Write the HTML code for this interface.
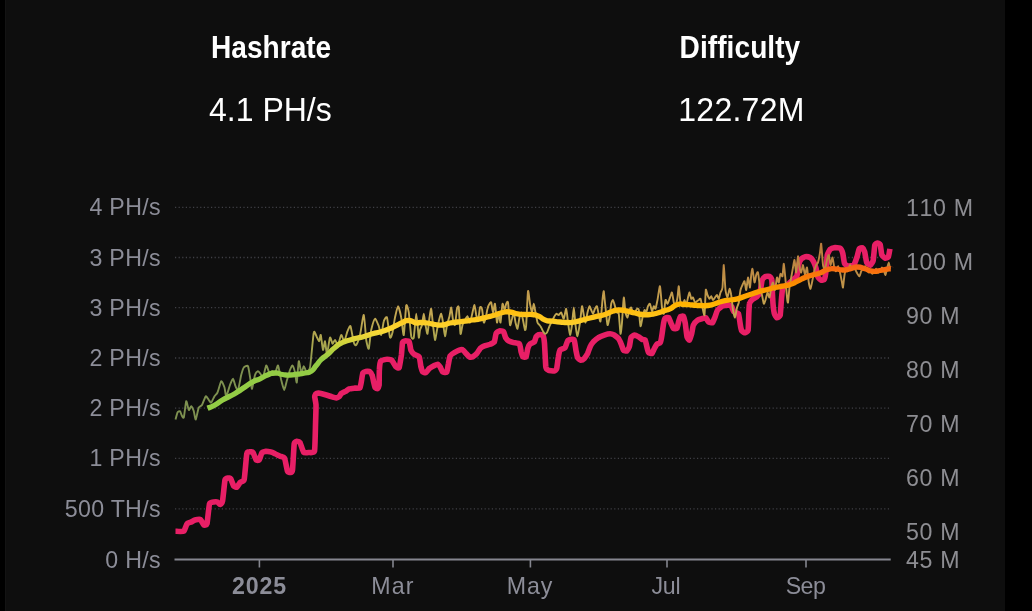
<!DOCTYPE html>
<html lang="en">
<head>
<meta charset="utf-8">
<title>Hashrate &amp; Difficulty</title>
<style>
html,body{margin:0;padding:0;background:#000;}
body{width:1032px;height:611px;overflow:hidden;position:relative;font-family:"Liberation Sans",sans-serif;}
#panel{position:absolute;left:6px;top:0;width:999px;height:611px;background:#0e0e0e;}
#edgeL{position:absolute;left:5px;top:0;width:1px;height:611px;background:#131313;}
.t{position:absolute;white-space:nowrap;color:#fff;line-height:1;transform-origin:0 0;}
#h1{left:211px;top:32.8px;font-size:28.1px;font-weight:bold;transform:scaleY(1.10);}
#h2{left:679.6px;top:32.8px;font-size:28.1px;font-weight:bold;letter-spacing:0.05px;transform:scaleY(1.10);}
#v1{left:209px;top:93.1px;font-size:32px;transform:scaleY(1.055);}
#v2{left:678.3px;top:93.1px;font-size:32px;letter-spacing:0.25px;transform:scaleY(1.055);}
.yl,.yr,.xl{position:absolute;height:30px;line-height:30px;font-size:23.2px;color:#8c8d98;white-space:nowrap;}
.yl{right:871.2px;text-align:right;letter-spacing:0.3px;}
.yr{left:906px;color:#8d8d92;letter-spacing:0.65px;font-kerning:none;}
.xl{width:100px;text-align:center;top:570.5px;}
.xl.b{font-weight:bold;}
svg{position:absolute;left:0;top:0;}
</style>
</head>
<body>
<div id="panel"></div>
<div id="edgeL"></div>
<div class="t" id="h1">Hashrate</div>
<div class="t" id="v1">4.1 PH/s</div>
<div class="t" id="h2">Difficulty</div>
<div class="t" id="v2">122.72M</div>
<div class="yl" style="top:192.3px">4 PH/s</div>
<div class="yl" style="top:242.5px">3 PH/s</div>
<div class="yl" style="top:292.7px">3 PH/s</div>
<div class="yl" style="top:343.0px">2 PH/s</div>
<div class="yl" style="top:393.2px">2 PH/s</div>
<div class="yl" style="top:443.4px">1 PH/s</div>
<div class="yl" style="top:493.9px">500 TH/s</div>
<div class="yl" style="top:544.5px">0 H/s</div>
<div class="yr" style="top:192.5px">110 M</div>
<div class="yr" style="top:246.8px">100 M</div>
<div class="yr" style="top:300.8px">90 M</div>
<div class="yr" style="top:354.8px">80 M</div>
<div class="yr" style="top:408.8px">70 M</div>
<div class="yr" style="top:462.9px">60 M</div>
<div class="yr" style="top:516.9px">50 M</div>
<div class="yr" style="top:545.0px">45 M</div>
<div class="xl b" style="left:209.6px;letter-spacing:0.85px">2025</div>
<div class="xl" style="left:342.9px;letter-spacing:1.15px">Mar</div>
<div class="xl" style="left:480.0px;letter-spacing:0.85px">May</div>
<div class="xl" style="left:615.9px;letter-spacing:-0.35px">Jul</div>
<div class="xl" style="left:755.5px;letter-spacing:-0.55px">Sep</div>
<svg width="1032" height="611" viewBox="0 0 1032 611">
<defs>
<linearGradient id="g" gradientUnits="userSpaceOnUse" x1="0" y1="258" x2="0" y2="360">
<stop offset="0" stop-color="#F4511E"/>
<stop offset="0.25" stop-color="#FB8C00"/>
<stop offset="0.45" stop-color="#FFB300"/>
<stop offset="0.71" stop-color="#FDD835"/>
<stop offset="1" stop-color="#93CC45"/>
</linearGradient>
<linearGradient id="g2" gradientUnits="userSpaceOnUse" x1="0" y1="243" x2="0" y2="370">
<stop offset="0" stop-color="#b87a3a"/>
<stop offset="0.3" stop-color="#c09248"/>
<stop offset="0.55" stop-color="#c4a752"/>
<stop offset="0.8" stop-color="#a9a64e"/>
<stop offset="1" stop-color="#7e9150"/>
</linearGradient>
</defs>
<g stroke="#404046" stroke-width="1.3" stroke-dasharray="1.2 2.4" fill="none">
<line x1="175" y1="207.3" x2="890" y2="207.3"/>
<line x1="175" y1="257.5" x2="890" y2="257.5"/>
<line x1="175" y1="307.7" x2="890" y2="307.7"/>
<line x1="175" y1="358.0" x2="890" y2="358.0"/>
<line x1="175" y1="408.2" x2="890" y2="408.2"/>
<line x1="175" y1="458.4" x2="890" y2="458.4"/>
<line x1="175" y1="508.9" x2="890" y2="508.9"/>
</g>
<g stroke="#85868f" stroke-width="2" fill="none">
<line x1="174.5" y1="559.5" x2="890.7" y2="559.5"/>
</g>
<g stroke="#85868f" stroke-width="1.6" fill="none">
<line x1="259.4" y1="559.5" x2="259.4" y2="567.5"/>
<line x1="393" y1="559.5" x2="393" y2="567.5"/>
<line x1="530.4" y1="559.5" x2="530.4" y2="567.5"/>
<line x1="667" y1="559.5" x2="667" y2="567.5"/>
<line x1="806" y1="559.5" x2="806" y2="567.5"/>
</g>
<path d="M175.5,531.2C176.1,531.2 182.9,531.8 183.8,531.2C184.6,530.7 186.4,524.4 187.0,523.8C187.6,523.1 190.7,522.3 191.2,522.0C191.8,521.7 194.3,520.2 195.0,520.0C195.7,519.8 199.9,519.1 200.5,519.5C201.1,519.9 203.3,524.7 203.8,525.0C204.2,525.3 206.6,525.3 207.0,523.8C207.4,522.2 209.0,505.3 209.5,503.8C210.0,502.2 213.2,502.1 213.8,502.0C214.3,501.9 217.0,501.8 217.5,502.0C218.0,502.2 219.6,504.6 220.0,504.5C220.4,504.4 222.1,503.0 222.5,501.2C222.9,499.5 224.6,481.7 225.0,480.0C225.4,478.3 227.6,478.1 228.0,478.0C228.4,477.9 230.3,478.1 230.8,478.8C231.2,479.4 233.3,485.6 233.8,486.2C234.2,486.9 236.5,487.3 237.0,487.0C237.5,486.7 239.5,483.1 240.0,482.5C240.5,481.9 243.8,481.6 244.2,479.5C244.7,477.4 246.4,455.8 246.8,453.8C247.1,451.7 249.0,451.8 249.5,451.8C250.0,451.7 252.5,451.9 253.0,452.5C253.5,453.1 255.8,459.4 256.2,460.0C256.7,460.6 258.8,460.6 259.2,460.0C259.7,459.4 261.5,453.1 262.0,452.5C262.5,451.9 265.7,451.3 266.2,451.2C266.8,451.2 269.4,451.6 270.0,451.8C270.6,451.9 274.3,453.4 275.0,453.8C275.7,454.1 279.3,455.9 280.0,456.2C280.7,456.6 283.9,456.9 284.5,458.0C285.1,459.1 287.1,470.2 287.5,471.2C287.9,472.3 290.1,472.6 290.5,472.5C290.9,472.4 292.2,472.1 292.5,470.0C292.8,467.9 293.9,445.9 294.2,443.8C294.6,441.6 296.6,441.3 297.0,441.2C297.4,441.2 299.5,441.7 300.0,442.5C300.5,443.3 303.1,451.8 303.8,452.5C304.4,453.2 308.0,452.6 308.8,452.5C309.5,452.4 314.0,453.3 314.5,451.2C315.0,449.2 315.4,428.4 315.5,425.0C315.6,421.6 316.1,407.1 316.0,405.0C315.9,402.9 314.8,397.8 314.7,397.0C314.7,396.2 315.5,394.3 315.7,394.0C316.0,393.7 317.5,393.0 318.2,393.0C318.8,393.1 323.5,394.2 324.6,394.5C325.6,394.8 331.6,396.7 332.4,397.0C333.3,397.2 335.8,398.0 336.3,398.0C336.9,397.9 338.9,396.8 339.3,396.5C339.7,396.2 340.8,393.9 341.3,393.5C341.8,393.1 345.6,391.4 346.2,391.1C346.7,390.7 348.5,389.1 349.1,388.9C349.8,388.7 354.2,388.2 355.0,388.1C355.8,388.1 359.5,388.4 359.9,387.9C360.4,387.4 361.2,382.4 361.4,381.3C361.6,380.2 362.5,373.6 362.9,372.9C363.2,372.2 365.3,371.5 365.8,371.4C366.3,371.3 369.3,371.3 369.7,371.6C370.2,371.9 371.9,374.6 372.2,375.4C372.5,376.1 373.5,381.3 373.7,382.2C373.9,383.1 374.9,387.2 375.1,387.6C375.4,388.1 377.3,388.8 377.6,388.6C377.9,388.4 378.9,386.6 379.1,385.2C379.2,383.8 379.2,371.2 379.4,369.5C379.5,367.7 380.3,361.7 380.8,361.0C381.4,360.2 385.9,359.3 386.7,359.3C387.5,359.2 391.0,359.6 391.7,360.1C392.4,360.7 395.3,366.2 395.9,366.8C396.4,367.4 398.8,368.5 399.2,367.6C399.6,366.8 401.1,356.9 401.4,355.1C401.6,353.3 402.3,343.6 402.5,342.6C402.8,341.5 404.6,341.0 405.1,340.9C405.5,340.9 408.8,341.1 409.2,341.8C409.7,342.4 410.5,349.2 410.9,350.1C411.3,351.0 413.6,353.8 414.2,354.3C414.8,354.8 418.8,355.9 419.2,356.8C419.7,357.7 420.7,365.7 420.9,366.8C421.2,367.9 422.2,371.4 422.6,371.8C423.0,372.2 425.4,372.9 425.9,372.6C426.4,372.4 428.7,369.0 429.3,368.5C429.8,368.0 432.8,366.3 433.4,366.0C434.1,365.7 437.1,364.2 437.6,364.3C438.1,364.4 439.8,366.2 440.1,366.8C440.5,367.4 442.1,371.4 442.6,371.8C443.1,372.2 446.4,372.8 446.8,372.1C447.2,371.5 448.2,364.6 448.5,363.5C448.7,362.3 449.7,356.7 450.1,355.9C450.6,355.1 453.6,353.0 454.3,352.6C455.0,352.2 458.7,350.3 459.3,350.1C459.9,349.9 462.2,349.5 462.7,349.8C463.2,350.0 465.5,352.9 466.0,353.4C466.5,354.0 468.9,356.5 469.3,356.8C469.8,357.0 472.1,357.0 472.7,356.8C473.2,356.5 476.3,354.1 476.9,353.4C477.4,352.8 479.6,349.0 480.2,348.4C480.8,347.9 483.6,346.2 484.4,345.9C485.1,345.6 489.5,344.6 490.2,344.3C491.0,343.9 494.0,342.5 494.4,341.8C494.8,341.0 495.7,334.2 496.1,333.4C496.4,332.6 498.9,331.0 499.4,330.9C500.0,330.8 503.1,331.2 503.6,331.7C504.0,332.2 505.2,336.9 505.6,337.6C506.0,338.2 508.0,340.5 508.6,340.9C509.2,341.3 512.8,342.4 513.6,342.6C514.4,342.8 518.9,343.1 519.4,343.8C520.0,344.4 520.9,350.8 521.1,351.8C521.4,352.7 522.4,356.4 522.8,356.8C523.2,357.1 525.8,357.4 526.1,356.8C526.5,356.2 527.5,349.4 527.8,348.4C528.1,347.5 529.8,344.2 530.3,343.8C530.8,343.3 534.0,342.3 534.5,341.8C534.9,341.2 535.8,337.3 536.1,336.7C536.5,336.2 538.2,334.9 538.7,334.7C539.1,334.6 542.4,334.4 542.8,335.1C543.3,335.7 544.3,341.1 544.5,343.4C544.7,345.7 545.6,364.9 545.8,366.8C546.1,368.8 547.7,369.9 548.4,370.2C549.0,370.5 553.6,371.1 554.2,371.0C554.8,370.9 556.4,369.6 556.7,368.5C557.0,367.5 558.1,358.2 558.4,356.8C558.6,355.5 559.6,350.8 560.0,350.1C560.5,349.5 564.5,348.3 565.1,347.6C565.6,347.0 567.1,341.6 567.6,341.0C568.0,340.3 570.4,339.3 570.9,339.3C571.4,339.2 573.9,339.3 574.2,340.1C574.6,340.9 575.7,348.9 575.9,350.1C576.2,351.4 577.2,356.9 577.6,357.7C577.9,358.4 580.4,360.1 580.9,360.2C581.4,360.2 583.8,359.0 584.3,358.5C584.7,358.0 587.2,354.3 587.6,353.5C588.0,352.6 589.7,347.7 590.1,346.8C590.5,345.9 592.8,342.5 593.4,341.8C594.1,341.1 597.7,338.1 598.5,337.6C599.2,337.1 603.4,335.4 604.3,335.1C605.2,334.8 609.4,333.8 610.1,333.8C610.9,333.8 613.7,334.8 614.3,335.1C614.9,335.5 618.0,337.8 618.5,338.5C619.0,339.1 620.6,342.6 621.0,343.5C621.4,344.3 623.1,349.6 623.5,350.1C623.9,350.7 626.4,351.2 626.8,351.0C627.3,350.7 629.0,347.8 629.3,346.8C629.7,345.8 630.6,338.5 631.0,337.6C631.4,336.8 633.8,335.2 634.4,335.1C634.9,335.0 638.0,336.5 638.5,336.8C639.1,337.1 641.4,339.0 641.9,339.3C642.4,339.5 644.8,339.6 645.2,340.1C645.6,340.7 646.6,345.9 646.9,346.8C647.1,347.7 648.2,352.2 648.6,352.6C648.9,353.1 651.5,353.8 651.9,353.5C652.3,353.2 654.0,349.1 654.4,348.5C654.8,347.8 656.5,344.7 656.9,344.3C657.3,343.9 659.9,343.3 660.2,342.6C660.6,342.0 661.7,336.5 661.9,335.1C662.2,333.7 663.3,324.7 663.6,323.4C663.8,322.2 664.9,318.5 665.3,318.1C665.6,317.6 668.2,317.2 668.6,317.6C669.0,318.0 670.7,322.6 671.1,323.4C671.5,324.2 673.2,328.1 673.6,328.4C674.0,328.8 676.6,328.9 676.9,328.4C677.3,327.9 678.4,322.6 678.6,321.8C678.9,320.9 679.9,317.1 680.3,316.7C680.6,316.3 683.3,315.9 683.6,316.4C684.0,316.9 685.0,321.9 685.3,323.4C685.5,324.9 686.7,335.6 687.0,336.8C687.3,338.0 689.1,340.4 689.5,340.1C689.8,339.9 691.4,334.6 691.7,333.5C692.0,332.4 692.9,326.2 693.3,325.2C693.8,324.2 696.8,320.7 697.5,320.2C698.2,319.7 701.9,318.7 702.5,318.5C703.1,318.3 705.4,317.4 705.9,317.7C706.3,317.9 707.9,321.5 708.4,321.8C708.9,322.2 712.1,323.0 712.5,322.7C713.0,322.3 714.7,317.7 715.1,316.8C715.4,315.9 717.0,310.9 717.6,310.1C718.1,309.3 721.8,306.3 722.6,306.0C723.4,305.6 727.7,305.1 728.4,305.1C729.1,305.2 731.4,306.3 731.8,306.8C732.1,307.3 733.3,311.3 733.8,311.8C734.2,312.3 738.0,312.6 738.4,313.5C738.9,314.3 739.9,322.2 740.1,323.5C740.3,324.8 741.4,330.3 741.8,331.0C742.1,331.7 744.6,332.7 745.1,332.7C745.6,332.6 747.8,331.6 748.1,330.2C748.4,328.8 748.7,315.4 748.8,313.5C748.9,311.5 749.2,304.5 749.5,303.5C749.7,302.4 752.1,299.8 752.6,299.3C753.2,298.8 756.2,297.3 756.8,296.8C757.4,296.2 759.7,293.0 760.1,291.8C760.5,290.5 761.8,281.2 762.1,280.1C762.5,279.0 764.6,277.0 765.2,276.7C765.7,276.5 768.8,276.2 769.3,276.4C769.8,276.7 771.6,278.5 771.8,280.1C772.1,281.7 772.5,296.0 772.7,298.5C772.8,300.9 774.0,312.1 774.3,313.5C774.6,314.9 776.4,317.5 776.8,317.7C777.3,317.8 779.8,316.6 780.2,315.2C780.5,313.7 781.3,300.4 781.5,298.5C781.7,296.5 782.3,289.4 782.7,288.4C783.1,287.5 786.2,285.6 786.9,285.1C787.5,284.5 791.1,281.6 791.9,280.9C792.6,280.2 796.4,277.1 796.9,275.9C797.4,274.7 798.2,266.3 798.6,265.1C798.9,263.8 800.6,259.8 801.1,259.2C801.5,258.6 804.6,256.8 805.2,256.7C805.9,256.6 809.6,257.2 810.2,257.5C810.9,257.9 813.2,260.9 813.6,261.7C814.0,262.5 815.8,267.3 816.1,268.4C816.4,269.5 817.4,275.9 817.8,276.7C818.1,277.6 820.6,279.9 821.1,280.1C821.6,280.3 824.1,280.0 824.4,279.2C824.8,278.5 825.9,271.8 826.1,270.1C826.3,268.3 827.0,256.6 827.3,255.0C827.6,253.5 829.7,249.7 830.3,249.2C830.9,248.6 834.6,247.6 835.3,247.5C836.0,247.5 839.7,247.9 840.3,248.4C840.9,248.8 842.5,252.3 842.8,253.4C843.1,254.5 844.1,262.5 844.5,263.4C844.8,264.3 847.1,265.8 847.8,265.9C848.5,266.0 853.1,265.8 853.7,265.1C854.4,264.5 856.6,258.2 857.0,257.0C857.4,255.8 858.8,249.6 859.2,248.9C859.5,248.2 862.0,247.6 862.4,247.8C862.8,248.0 864.2,250.5 864.6,251.6C864.9,252.7 866.3,261.4 866.7,262.4C867.2,263.4 870.0,265.3 870.5,265.1C871.0,265.0 872.9,261.7 873.2,260.3C873.5,258.8 874.5,246.4 874.8,245.1C875.1,243.9 877.1,243.0 877.5,243.0C877.9,242.9 879.9,243.7 880.2,244.6C880.5,245.5 881.5,253.9 881.8,254.9C882.2,255.8 884.6,257.9 885.1,258.1C885.6,258.3 888.0,257.7 888.3,257.0C888.7,256.3 889.8,249.5 889.9,248.9" fill="none" stroke="#E81F66" stroke-width="5.6" stroke-linejoin="round" stroke-linecap="butt"/>
<path d="M175.5,419.5C175.7,418.8 177.1,413.3 177.5,412.5C177.9,411.7 179.6,410.9 180.0,411.2C180.4,411.6 181.4,414.9 181.8,415.5C182.1,416.1 183.3,418.9 183.8,417.5C184.2,416.1 185.8,402.0 186.2,401.2C186.8,400.5 188.2,409.5 188.8,410.0C189.2,410.5 190.8,406.1 191.2,406.2C191.8,406.4 193.3,409.9 193.8,411.2C194.2,412.6 195.2,419.9 195.8,419.5C196.2,419.1 198.1,408.9 198.8,407.5C199.4,406.1 201.3,406.1 202.0,405.0C202.7,403.9 205.1,396.8 205.8,396.2C206.4,395.8 208.2,399.4 208.8,400.0C209.3,400.6 210.7,402.9 211.2,402.5C211.8,402.1 213.9,397.2 214.5,396.2C215.1,395.2 216.8,394.0 217.5,392.5C218.2,391.0 220.6,381.8 221.2,381.2C221.9,380.8 224.0,386.0 224.5,387.5C225.0,389.0 225.7,396.5 226.2,396.2C226.8,396.0 229.3,386.8 230.0,385.0C230.7,383.2 232.4,378.6 233.0,378.8C233.6,378.9 235.0,385.1 235.5,386.2C236.0,387.4 237.4,391.1 238.0,390.0C238.6,388.9 240.7,377.2 241.2,375.0C241.8,372.8 243.1,368.4 243.8,367.5C244.4,366.6 247.3,365.0 248.0,366.2C248.7,367.5 250.1,377.8 250.5,380.0C250.9,382.2 251.6,389.2 252.0,388.8C252.4,388.2 254.4,376.8 255.0,375.0C255.6,373.2 257.4,371.4 258.0,371.2C258.6,371.1 260.0,373.1 260.5,373.8C261.0,374.4 262.4,378.3 263.0,377.5C263.6,376.7 265.6,366.0 266.2,365.5C266.9,365.0 268.6,371.9 269.2,372.5C269.9,373.1 271.9,371.1 272.5,371.2C273.1,371.4 274.4,374.3 275.0,373.8C275.6,373.2 277.4,364.9 278.0,365.5C278.6,366.1 280.6,377.6 281.2,380.0C281.9,382.4 283.7,390.0 284.2,390.0C284.8,390.0 286.4,382.0 287.0,380.0C287.6,378.0 289.4,371.4 290.0,370.0C290.6,368.6 292.0,365.2 292.5,365.5C293.0,365.8 294.6,370.8 295.0,372.5C295.4,374.2 296.4,383.6 296.8,382.5C297.1,381.4 298.3,362.2 298.8,361.2C299.2,360.2 300.8,372.0 301.2,372.5C301.8,373.0 303.2,366.4 303.8,366.2C304.2,366.1 305.6,371.1 306.2,371.2C306.9,371.4 309.2,371.4 310.0,367.5C310.8,363.6 313.1,335.5 313.8,332.5C314.4,329.5 316.4,336.6 317.0,337.5C317.6,338.4 318.9,341.5 319.2,341.2C319.6,341.0 320.4,334.1 320.8,335.0C321.1,335.9 322.6,349.4 323.0,350.0C323.4,350.6 324.6,340.9 325.0,341.2C325.4,341.6 326.5,354.1 327.0,353.8C327.5,353.4 329.4,338.5 330.0,337.5C330.6,336.5 332.0,343.5 332.5,343.8C333.0,344.0 334.4,339.9 335.0,340.0C335.6,340.1 337.4,345.5 338.0,345.0C338.6,344.5 340.6,335.4 341.2,335.0C341.9,334.6 343.6,341.6 344.2,341.2C344.9,340.9 346.9,332.8 347.5,331.2C348.1,329.8 349.9,325.1 350.5,326.2C351.1,327.4 353.2,340.6 353.8,342.5C354.3,344.4 355.6,345.8 356.2,345.0C356.9,344.2 359.2,338.0 360.0,335.0C360.8,332.0 363.1,314.5 363.8,315.0C364.4,315.5 365.8,336.6 366.2,340.0C366.8,343.4 368.2,349.8 368.8,348.8C369.2,347.8 370.6,333.0 371.2,330.0C371.9,327.0 374.2,319.1 375.0,318.8C375.8,318.4 378.1,324.6 378.8,326.2C379.4,327.9 380.8,335.5 381.2,335.0C381.8,334.5 383.2,323.0 383.8,321.2C384.3,319.5 386.4,315.9 387.0,317.5C387.6,319.1 389.4,336.0 390.0,337.5C390.6,339.0 392.0,334.5 392.5,332.5C393.0,330.5 394.4,320.1 395.0,317.5C395.6,314.9 397.4,306.2 398.0,306.2C398.6,306.2 400.7,314.6 401.2,317.5C401.8,320.4 403.2,336.2 403.8,335.0C404.2,333.8 405.8,307.8 406.2,305.5C406.8,303.2 408.2,309.4 408.8,312.5C409.2,315.6 410.8,333.8 411.2,336.2C411.8,338.8 413.2,339.8 413.8,337.5C414.2,335.2 415.8,313.8 416.2,313.8C416.8,313.8 418.4,335.9 418.8,337.5C419.1,339.1 419.7,331.2 420.0,330.0C420.3,328.8 421.6,326.6 422.0,325.0C422.4,323.4 423.4,313.8 423.8,313.8C424.1,313.8 425.1,323.0 425.5,325.0C425.9,327.0 427.1,334.5 427.5,333.8C427.9,333.0 429.1,320.0 429.5,317.5C429.9,315.0 430.9,308.0 431.2,308.8C431.6,309.5 432.6,321.9 433.0,325.0C433.4,328.1 434.6,339.5 435.0,340.0C435.4,340.5 436.6,331.9 437.0,330.0C437.4,328.1 438.3,322.9 438.8,321.2C439.2,319.6 440.8,313.6 441.2,313.8C441.7,313.9 442.6,320.2 443.0,322.5C443.4,324.8 444.6,336.0 445.0,336.2C445.4,336.5 446.6,327.0 447.0,325.0C447.4,323.0 449.1,318.0 449.5,316.2C449.9,314.5 450.9,307.1 451.2,307.5C451.6,307.9 452.6,318.2 453.0,320.0C453.4,321.8 454.6,326.1 455.0,325.0C455.4,323.9 456.6,310.5 457.0,308.8C457.4,307.0 458.4,305.0 458.8,307.5C459.1,310.0 460.1,332.0 460.5,333.8C460.9,335.5 462.1,326.4 462.5,325.0C462.9,323.6 464.5,320.9 465.0,320.0C465.5,319.1 467.0,316.0 467.5,316.2C468.0,316.5 469.5,322.9 470.0,322.5C470.5,322.1 472.1,314.2 472.5,312.5C472.9,310.8 474.1,304.8 474.5,305.0C474.9,305.2 475.9,313.4 476.2,315.0C476.6,316.6 477.6,322.0 478.0,321.2C478.4,320.5 479.6,308.8 480.0,307.5C480.4,306.2 481.6,307.2 482.0,308.8C482.4,310.2 483.4,321.5 483.8,322.5C484.1,323.5 485.1,320.1 485.5,318.8C485.9,317.4 487.1,310.2 487.5,308.8C487.9,307.2 489.1,304.4 489.5,303.8C489.9,303.1 490.9,301.6 491.2,302.5C491.6,303.4 492.6,312.4 493.0,312.5C493.4,312.6 494.6,302.8 495.0,303.8C495.4,304.8 496.6,321.6 497.0,322.5C497.4,323.4 498.4,312.5 498.8,312.5C499.1,312.5 500.1,323.4 500.5,322.5C500.9,321.6 502.1,305.0 502.5,303.8C502.9,302.5 504.1,310.0 504.5,310.0C504.9,310.0 505.9,304.5 506.2,303.8C506.6,303.0 507.6,300.4 508.0,302.5C508.4,304.6 509.6,323.4 510.0,325.0C510.4,326.6 511.6,320.0 512.0,318.8C512.4,317.5 513.4,312.1 513.8,312.5C514.1,312.9 515.1,320.9 515.5,322.5C515.9,324.1 517.1,329.2 517.5,328.8C517.9,328.2 519.1,319.1 519.5,317.5C519.9,315.9 520.9,312.2 521.2,312.5C521.6,312.8 522.6,318.2 523.0,320.0C523.4,321.8 524.7,329.5 525.0,330.0C525.3,330.5 526.0,328.9 526.2,325.0C526.5,321.1 527.6,293.4 528.0,291.2C528.4,289.1 529.6,301.6 530.0,303.8C530.4,305.9 531.6,312.5 532.0,312.5C532.4,312.5 533.4,303.8 533.8,303.8C534.1,303.8 535.1,310.6 535.5,312.5C535.9,314.4 537.1,321.2 537.5,322.5C537.9,323.8 539.1,324.5 539.5,325.0C539.9,325.5 540.9,326.9 541.2,327.5C541.6,328.1 542.6,330.6 543.0,331.2C543.4,331.9 544.6,333.6 545.0,333.8C545.4,333.9 546.5,333.2 547.0,332.5C547.5,331.8 549.0,327.4 549.5,326.2C550.0,325.1 551.5,322.2 552.0,321.2C552.5,320.2 554.1,317.0 554.5,316.2C554.9,315.5 555.8,313.9 556.2,313.8C556.7,313.6 558.2,315.1 558.8,315.0C559.2,314.9 560.8,312.1 561.2,312.5C561.8,312.9 563.2,319.1 563.8,318.8C564.2,318.4 565.8,308.4 566.2,308.8C566.7,309.1 567.6,319.9 568.0,322.5C568.4,325.1 569.6,334.8 570.0,335.0C570.4,335.2 571.6,327.8 572.0,325.0C572.4,322.2 573.4,307.5 573.8,307.5C574.1,307.5 575.1,322.1 575.5,325.0C575.9,327.9 577.0,336.5 577.5,336.2C578.0,336.0 579.5,325.5 580.0,322.5C580.5,319.5 581.6,307.0 582.0,306.2C582.4,305.5 583.4,313.4 583.8,315.0C584.1,316.6 585.1,322.8 585.5,322.5C585.9,322.2 587.1,314.1 587.5,312.5C587.9,310.9 589.1,306.5 589.5,306.2C589.9,306.0 590.9,309.2 591.2,310.0C591.6,310.8 592.6,313.9 593.0,313.8C593.4,313.6 594.6,309.5 595.0,308.8C595.4,308.0 596.6,305.6 597.0,306.2C597.4,306.9 598.4,313.5 598.8,315.0C599.1,316.5 600.1,322.8 600.5,321.2C600.9,319.8 602.2,303.0 602.5,300.0C602.8,297.0 603.5,290.5 603.8,291.2C604.0,292.0 605.1,304.1 605.5,307.5C605.9,310.9 607.1,324.0 607.5,325.0C607.9,326.0 609.1,319.6 609.5,317.5C609.9,315.4 610.9,305.5 611.2,303.8C611.6,302.0 612.6,299.8 613.0,300.0C613.4,300.2 614.6,305.0 615.0,306.2C615.4,307.5 616.6,311.8 617.0,312.5C617.4,313.2 618.4,311.6 618.8,313.8C619.1,315.9 620.2,332.9 620.5,333.8C620.8,334.6 621.7,326.1 622.0,322.5C622.3,318.9 623.4,298.5 623.8,297.5C624.1,296.5 625.1,310.5 625.5,312.5C625.9,314.5 627.1,317.8 627.5,317.5C627.9,317.2 629.1,311.0 629.5,310.0C629.9,309.0 630.9,307.1 631.2,307.5C631.6,307.9 632.6,313.2 633.0,313.8C633.4,314.2 634.6,313.0 635.0,312.5C635.4,312.0 636.6,309.0 637.0,308.8C637.4,308.5 638.4,308.2 638.8,310.0C639.1,311.8 640.1,325.5 640.5,326.2C640.9,327.0 642.1,319.1 642.5,317.5C642.9,315.9 644.1,310.5 644.5,310.0C644.9,309.5 645.9,312.9 646.2,312.5C646.6,312.1 647.6,307.1 648.0,306.2C648.4,305.4 649.6,303.2 650.0,303.8C650.4,304.2 651.6,311.0 652.0,311.2C652.4,311.5 653.4,306.5 653.8,306.2C654.1,306.0 655.1,309.4 655.5,308.8C655.9,308.1 657.0,302.2 657.5,300.0C658.0,297.8 659.5,285.5 660.0,286.2C660.5,287.0 661.6,304.8 662.0,307.5C662.4,310.2 663.4,314.5 663.8,313.8C664.1,313.0 665.1,301.0 665.5,300.0C665.9,299.0 667.0,304.0 667.5,303.8C668.0,303.5 669.5,298.6 670.0,297.5C670.5,296.4 671.6,292.0 672.0,292.5C672.4,293.0 673.4,301.2 673.8,302.5C674.1,303.8 675.1,305.5 675.5,305.0C675.9,304.5 677.2,299.4 677.5,297.5C677.8,295.6 678.5,285.8 678.8,286.2C679.0,286.8 680.1,300.5 680.5,302.5C680.9,304.5 682.1,306.5 682.5,306.2C682.9,306.0 684.1,300.1 684.5,300.0C684.9,299.9 685.9,305.2 686.2,305.0C686.6,304.8 687.7,298.8 688.0,297.5C688.3,296.2 689.2,292.4 689.5,292.5C689.8,292.6 690.9,298.2 691.2,298.8C691.6,299.2 692.6,297.1 693.0,297.5C693.4,297.9 694.6,302.1 695.0,302.5C695.4,302.9 696.6,301.5 697.0,301.2C697.4,301.0 698.4,300.2 698.8,300.0C699.1,299.8 700.1,298.0 700.5,298.8C700.9,299.5 702.1,305.9 702.5,307.5C702.9,309.1 704.2,316.8 704.5,315.0C704.8,313.2 705.5,292.0 705.8,290.0C706.0,288.0 707.1,294.1 707.5,295.0C707.9,295.9 709.1,298.6 709.5,298.8C709.9,298.9 710.9,296.1 711.2,296.2C711.6,296.4 712.6,299.9 713.0,300.0C713.4,300.1 714.6,298.0 715.0,297.5C715.4,297.0 716.6,294.9 717.0,295.0C717.4,295.1 718.4,299.0 718.8,298.8C719.1,298.5 720.1,293.6 720.5,292.5C720.9,291.4 722.2,290.2 722.5,287.5C722.8,284.8 723.5,264.8 723.8,265.0C724.0,265.2 725.1,286.8 725.5,290.0C725.9,293.2 727.1,297.6 727.5,297.5C727.9,297.4 729.1,289.0 729.5,288.8C729.9,288.5 730.9,292.9 731.2,295.0C731.6,297.1 732.6,307.8 733.0,310.0C733.4,312.2 734.6,317.8 735.0,317.5C735.4,317.2 736.6,309.0 737.0,307.5C737.4,306.0 738.4,304.2 738.8,302.5C739.1,300.8 740.1,291.8 740.5,290.0C740.9,288.2 742.1,285.9 742.5,285.0C742.9,284.1 744.1,280.8 744.5,281.2C744.9,281.8 745.9,290.4 746.2,290.0C746.6,289.6 747.6,277.8 748.0,277.5C748.4,277.2 749.7,287.8 750.0,287.5C750.3,287.2 751.0,276.9 751.2,275.0C751.5,273.1 752.2,268.0 752.5,268.8C752.8,269.5 754.1,281.9 754.5,282.5C754.9,283.1 755.9,276.0 756.2,275.0C756.6,274.0 757.6,271.2 758.0,272.5C758.4,273.8 759.6,285.2 760.0,287.5C760.4,289.8 761.6,293.4 762.0,295.0C762.4,296.6 763.4,303.2 763.8,303.8C764.1,304.2 765.1,301.1 765.5,300.0C765.9,298.9 767.1,292.8 767.5,292.5C767.9,292.2 769.1,298.0 769.5,297.5C769.9,297.0 770.9,289.0 771.2,287.5C771.6,286.0 772.6,282.2 773.0,282.5C773.4,282.8 774.6,290.5 775.0,290.0C775.4,289.5 776.6,278.2 777.0,277.5C777.4,276.8 778.4,282.9 778.8,282.5C779.1,282.1 780.1,274.4 780.5,273.8C780.9,273.1 782.2,277.2 782.5,276.2C782.8,275.2 783.5,263.4 783.8,263.8C784.0,264.1 785.2,276.6 785.5,280.0C785.8,283.4 786.8,295.2 787.0,297.5C787.2,299.8 787.8,303.5 788.0,302.5C788.2,301.5 789.2,290.0 789.5,287.5C789.8,285.0 790.9,279.5 791.2,277.5C791.6,275.5 792.7,269.2 793.0,267.5C793.3,265.8 794.2,259.5 794.5,260.0C794.8,260.5 795.9,272.9 796.2,272.5C796.6,272.1 797.7,256.8 798.0,256.2C798.3,255.8 799.2,265.9 799.5,267.5C799.8,269.1 800.9,272.8 801.2,272.5C801.6,272.2 802.6,264.8 803.0,265.0C803.4,265.2 804.6,274.8 805.0,275.0C805.4,275.2 806.6,266.8 807.0,267.5C807.4,268.2 808.4,280.4 808.8,282.5C809.1,284.6 810.1,289.0 810.5,288.8C810.9,288.5 812.1,281.9 812.5,280.0C812.9,278.1 814.1,271.5 814.5,270.0C814.9,268.5 815.9,265.8 816.2,265.0C816.6,264.2 817.6,263.8 818.0,262.5C818.4,261.2 819.7,254.4 820.0,252.5C820.3,250.6 821.0,242.5 821.2,243.8C821.5,245.0 822.6,262.5 823.0,265.0C823.4,267.5 824.6,269.2 825.0,268.8C825.4,268.2 826.6,261.4 827.0,260.0C827.4,258.6 828.4,254.5 828.8,255.0C829.1,255.5 830.1,264.8 830.5,265.0C830.9,265.2 832.1,257.1 832.5,257.5C832.9,257.9 834.1,267.4 834.5,268.8C834.9,270.1 835.9,271.5 836.2,271.2C836.6,271.0 837.6,266.1 838.0,266.2C838.4,266.4 839.6,270.9 840.0,272.5C840.4,274.1 841.7,281.0 842.0,282.5C842.3,284.0 842.8,288.2 843.0,287.5C843.2,286.8 844.2,276.9 844.5,275.0C844.8,273.1 845.9,269.1 846.2,268.8C846.6,268.4 847.6,271.6 848.0,271.2C848.4,270.9 849.6,265.2 850.0,265.0C850.4,264.8 851.6,268.6 852.0,268.8C852.4,268.9 853.4,266.1 853.8,266.2C854.1,266.4 855.1,269.2 855.5,270.0C855.9,270.8 857.1,273.1 857.5,273.8C857.9,274.4 859.1,276.5 859.5,276.2C859.9,276.0 860.9,272.0 861.2,271.2C861.6,270.5 862.6,269.2 863.0,268.8C863.4,268.2 864.6,266.1 865.0,266.2C865.4,266.4 866.6,269.4 867.0,270.0C867.4,270.6 868.4,272.4 868.8,272.5C869.1,272.6 870.1,271.1 870.5,271.2C870.9,271.4 872.1,273.8 872.5,273.8C872.9,273.8 874.1,271.8 874.5,271.2C874.9,270.8 875.9,268.6 876.2,268.8C876.6,268.9 877.6,272.2 878.0,272.5C878.4,272.8 879.6,271.8 880.0,271.2C880.4,270.8 881.6,267.6 882.0,267.5C882.4,267.4 883.4,269.2 883.8,270.0C884.1,270.8 885.2,275.1 885.5,275.0C885.8,274.9 886.7,270.0 887.0,268.8C887.3,267.5 888.5,262.5 888.8,262.5C889.0,262.5 889.9,268.1 890.0,268.8" fill="none" stroke="url(#g2)" stroke-width="1.9" stroke-linejoin="round"/>
<path d="M207.5,408.2C210.0,407.2 210.0,407.8 215.0,405.0C220.0,402.2 217.5,402.9 222.5,400.0C227.5,397.1 225.0,398.9 230.0,396.2C235.0,393.6 232.5,395.1 237.5,392.0C242.5,388.9 240.0,390.3 245.0,387.0C250.0,383.7 247.5,384.8 252.5,382.0C257.5,379.2 255.0,381.1 260.0,378.8C265.0,376.4 262.5,376.9 267.5,375.0C272.5,373.1 270.0,373.2 275.0,373.0C280.0,372.8 277.5,373.8 282.5,374.5C287.5,375.2 285.0,375.1 290.0,375.0C295.0,374.9 292.5,374.9 297.5,374.2C302.5,373.6 300.4,374.0 305.0,373.0C309.6,372.0 307.5,373.8 311.2,371.2C315.0,368.8 312.9,369.4 316.2,365.5C319.6,361.6 317.5,363.2 321.2,359.5C325.0,355.8 322.9,358.5 327.5,354.5C332.1,350.5 330.0,351.5 335.0,347.5C340.0,343.5 337.5,345.0 342.5,342.5C347.5,340.0 345.0,341.5 350.0,340.0C355.0,338.5 352.5,339.2 357.5,338.0C362.5,336.8 360.0,337.7 365.0,336.2C370.0,334.8 367.5,335.2 372.5,333.8C377.5,332.3 375.0,333.4 380.0,332.0C385.0,330.6 382.5,331.4 387.5,329.5C392.5,327.6 390.0,328.6 395.0,326.2C400.0,323.9 397.9,324.4 402.5,322.5C407.1,320.6 404.2,320.3 408.8,320.5C413.3,320.7 412.5,322.3 416.2,323.0C420.0,323.7 416.2,322.5 420.0,322.5C423.8,322.5 422.5,322.3 427.5,323.0C432.5,323.7 430.0,323.8 435.0,324.5C440.0,325.2 437.5,325.5 442.5,325.0C447.5,324.5 445.0,324.0 450.0,323.0C455.0,322.0 452.5,322.6 457.5,322.0C462.5,321.4 460.0,321.9 465.0,321.2C470.0,320.6 467.5,320.8 472.5,320.0C477.5,319.2 475.0,319.8 480.0,318.8C485.0,317.8 482.5,318.2 487.5,317.0C492.5,315.8 490.0,316.5 495.0,315.0C500.0,313.5 497.5,313.5 502.5,312.5C507.5,311.5 505.0,311.6 510.0,312.0C515.0,312.4 512.5,312.9 517.5,313.8C522.5,314.6 520.0,314.2 525.0,314.5C530.0,314.8 527.9,313.9 532.5,314.5C537.1,315.1 534.6,314.4 538.8,316.2C542.9,318.1 540.4,318.3 545.0,320.0C549.6,321.7 547.5,320.6 552.5,321.2C557.5,321.9 555.0,321.6 560.0,322.0C565.0,322.4 562.5,322.5 567.5,322.5C572.5,322.5 570.0,322.8 575.0,322.0C580.0,321.2 577.5,321.3 582.5,320.0C587.5,318.7 585.0,319.2 590.0,318.0C595.0,316.8 592.5,317.4 597.5,316.2C602.5,315.1 600.0,316.2 605.0,314.5C610.0,312.8 607.5,312.8 612.5,311.2C617.5,309.8 615.0,310.0 620.0,310.0C625.0,310.0 622.5,310.2 627.5,311.2C632.5,312.2 630.0,311.9 635.0,313.0C640.0,314.1 637.5,314.0 642.5,314.5C647.5,315.0 645.0,315.0 650.0,314.5C655.0,314.0 652.5,314.3 657.5,313.0C662.5,311.7 660.8,311.9 665.0,310.5C669.2,309.1 665.8,310.8 670.0,308.8C674.2,306.8 672.5,305.9 677.5,304.5C682.5,303.1 680.0,304.3 685.0,304.5C690.0,304.7 687.5,304.7 692.5,305.0C697.5,305.3 695.0,305.3 700.0,305.5C705.0,305.7 702.5,306.1 707.5,305.5C712.5,304.9 710.0,305.2 715.0,303.8C720.0,302.3 717.5,302.5 722.5,301.2C727.5,300.0 725.0,300.8 730.0,300.0C735.0,299.2 732.5,300.0 737.5,298.8C742.5,297.5 740.0,297.9 745.0,296.2C750.0,294.6 747.5,295.4 752.5,293.8C757.5,292.1 755.0,292.7 760.0,291.2C765.0,289.8 762.5,290.8 767.5,289.5C772.5,288.2 770.0,288.6 775.0,287.5C780.0,286.4 777.5,287.2 782.5,286.2C787.5,285.2 785.0,286.2 790.0,284.5C795.0,282.8 792.5,283.6 797.5,281.2C802.5,278.9 800.0,279.6 805.0,277.5C810.0,275.4 807.5,276.5 812.5,275.0C817.5,273.5 815.0,274.8 820.0,273.0C825.0,271.2 822.5,270.9 827.5,269.5C832.5,268.1 830.0,268.6 835.0,268.8C840.0,268.9 837.5,270.0 842.5,270.0C847.5,270.0 845.0,269.8 850.0,268.8C855.0,267.8 852.5,267.0 857.5,267.0C862.5,267.0 860.0,267.3 865.0,268.8C870.0,270.2 867.5,270.7 872.5,271.2C877.5,271.8 875.8,271.1 880.0,270.5C884.2,269.9 881.8,270.1 885.0,269.5C888.2,268.9 887.6,269.0 889.5,268.8C891.4,268.5 890.3,268.8 890.8,268.8" fill="none" stroke="url(#g)" stroke-width="5.3" stroke-linejoin="round" stroke-linecap="butt"/>
</svg>
</body>
</html>
